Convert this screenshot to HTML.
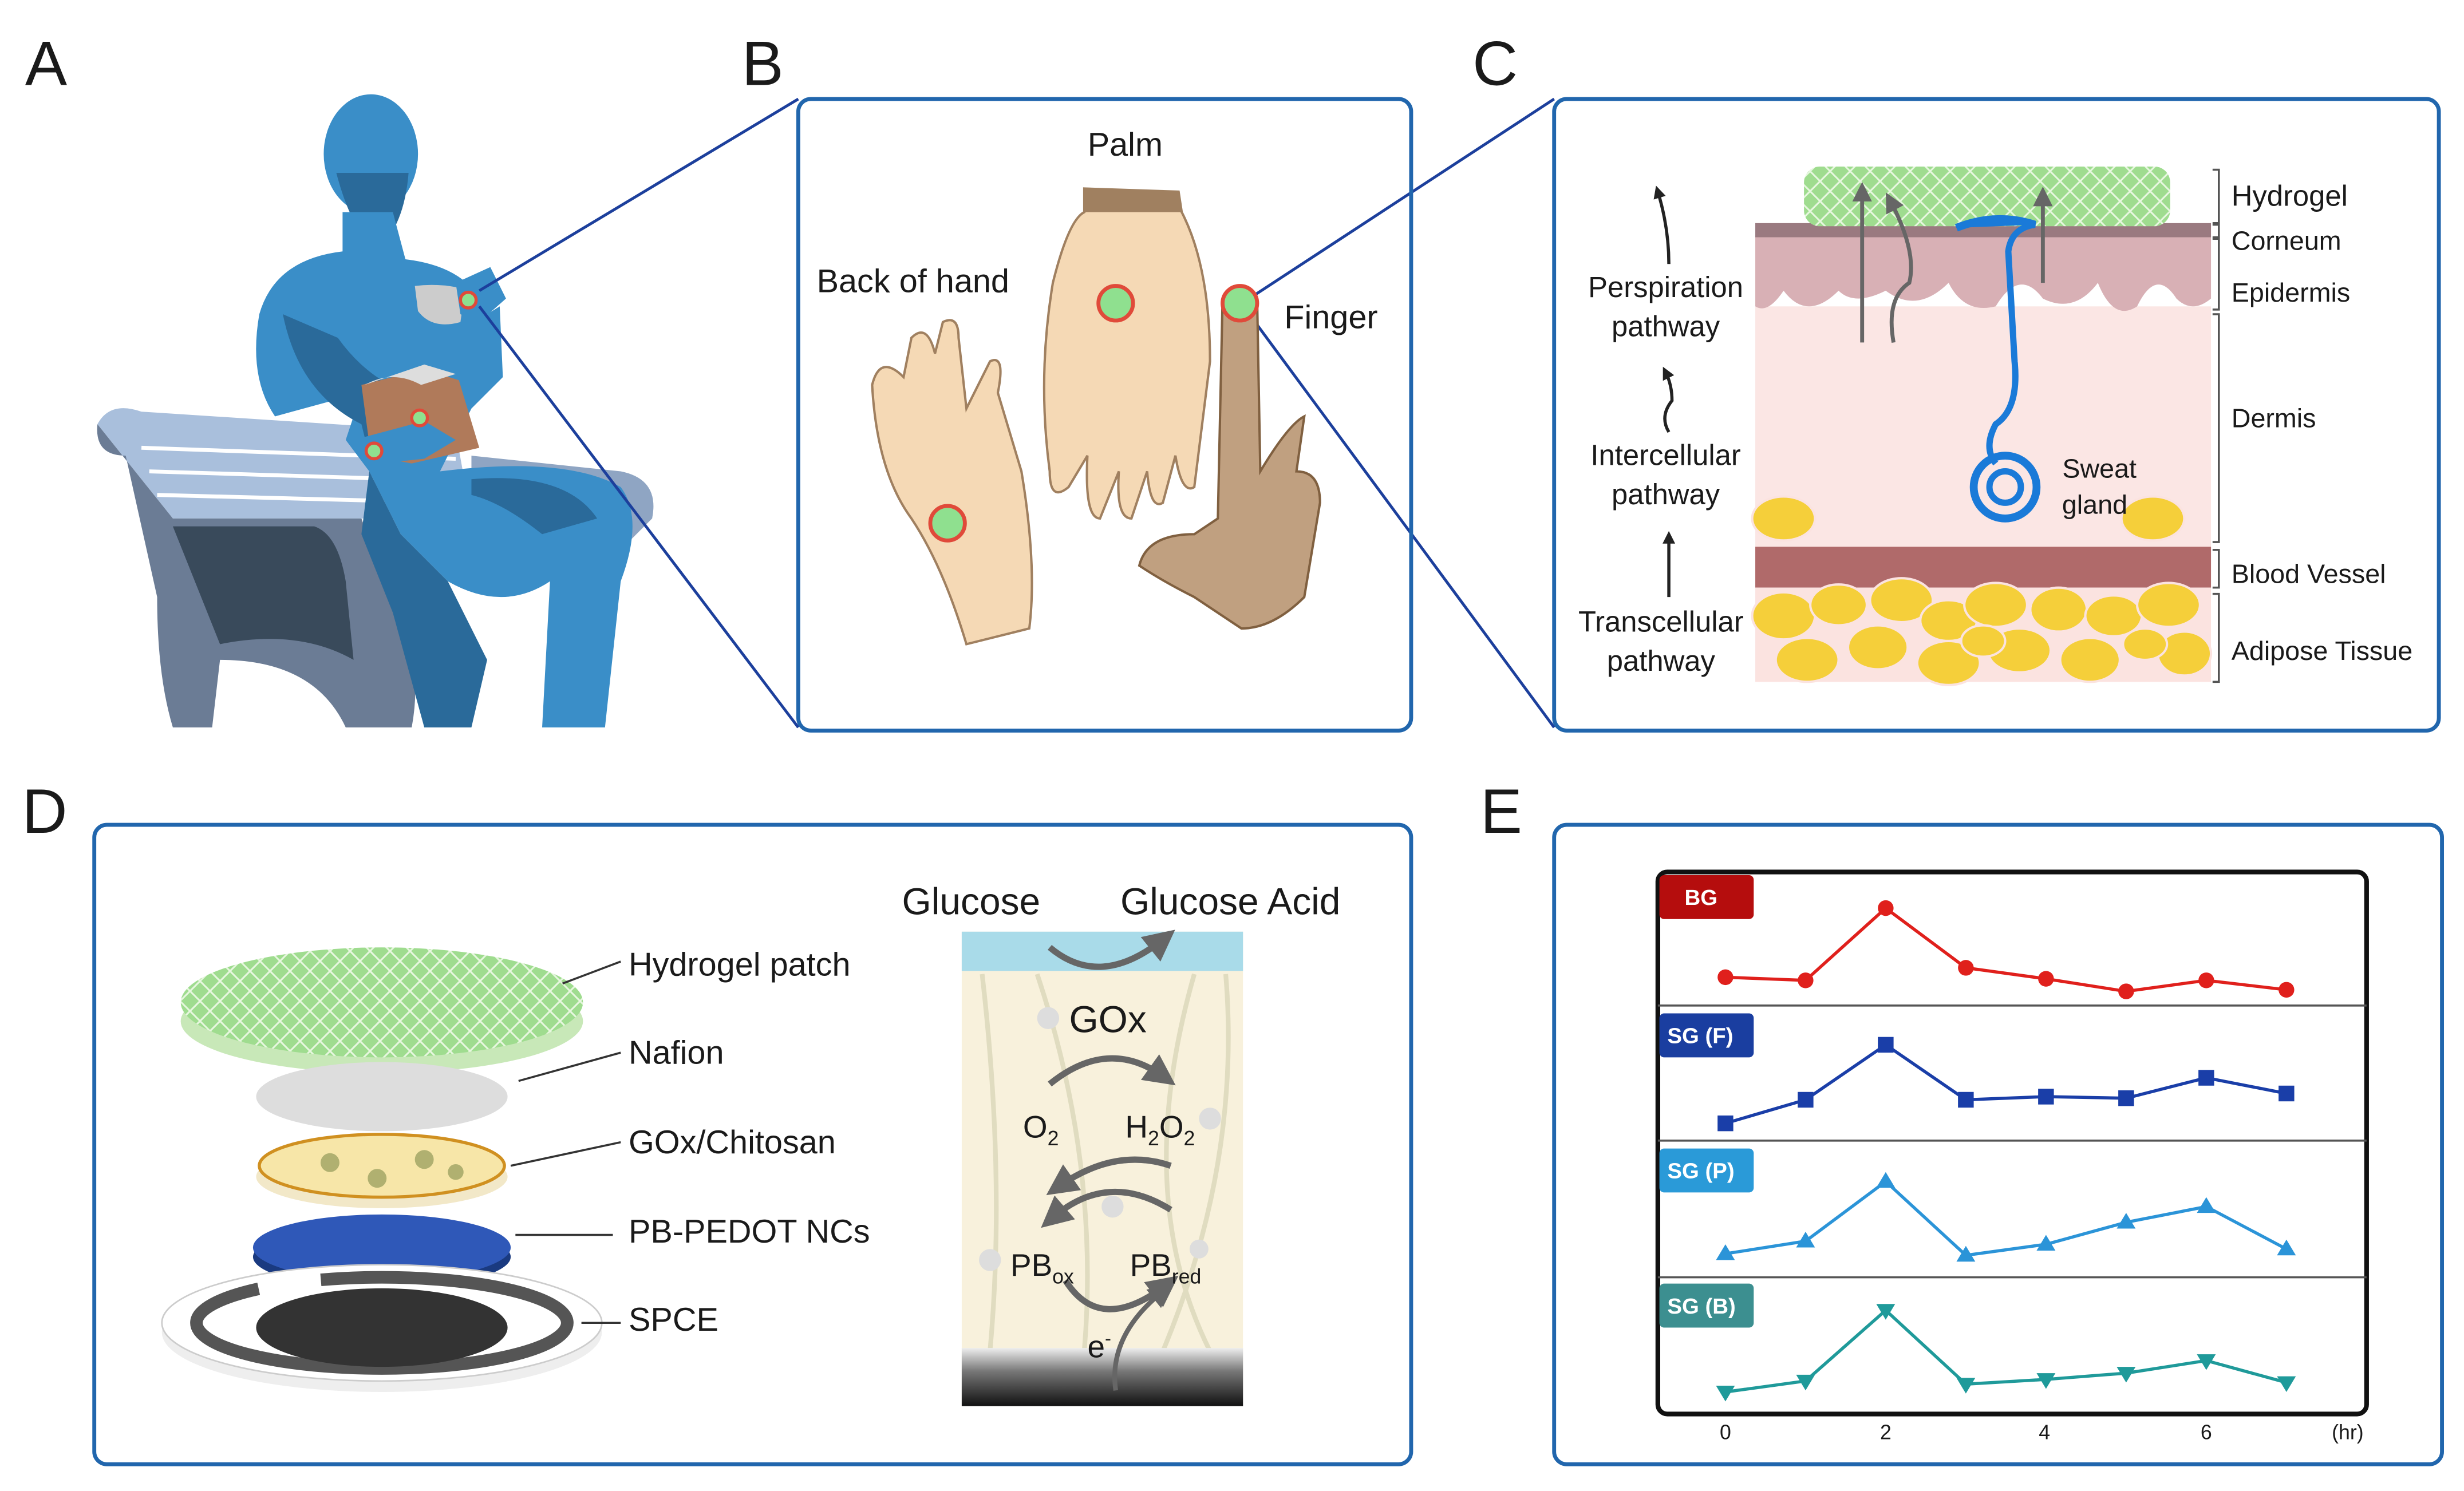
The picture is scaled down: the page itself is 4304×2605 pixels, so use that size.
<!DOCTYPE html>
<html><head><meta charset="utf-8"><style>
html,body{margin:0;padding:0;background:#fff}
svg{display:block}
text{font-family:"Liberation Sans",Arial,sans-serif;fill:#1a1a1a}
</style></head><body>
<svg width="4304" height="2605" viewBox="0 0 1568 949" xmlns="http://www.w3.org/2000/svg">
<defs>
<pattern id="hatch" width="9" height="9" patternUnits="userSpaceOnUse" patternTransform="rotate(45)">
<rect width="9" height="9" fill="#9fdc8f"/><path d="M0 0H9M0 0V9" stroke="#e8f7e0" stroke-width="2.2"/></pattern>
<linearGradient id="dark" x1="0" y1="0" x2="0" y2="1"><stop offset="0" stop-color="#eee"/><stop offset="0.4" stop-color="#777"/><stop offset="1" stop-color="#111"/></linearGradient>
<marker id="ah" viewBox="0 0 10 10" refX="5" refY="5" markerWidth="5" markerHeight="5" orient="auto"><path d="M0 0L10 5L0 10z" fill="#666"/></marker>
<marker id="ak" viewBox="0 0 10 10" refX="5" refY="5" markerWidth="4" markerHeight="4" orient="auto"><path d="M0 0L10 5L0 10z" fill="#222"/></marker>
</defs>

<text x="16" y="54" font-size="40">A</text>
<text x="472" y="54" font-size="40">B</text>
<text x="937" y="54" font-size="40">C</text>
<text x="14" y="530" font-size="40">D</text>
<text x="942" y="530" font-size="40">E</text>

<path d="M62 270 Q70 255 90 262 L290 275 L300 330 L110 330 Z" fill="#a9bfdc"/>
<g stroke="#fff" stroke-width="2.5"><line x1="90" y1="285" x2="290" y2="292"/><line x1="95" y1="300" x2="290" y2="306"/><line x1="100" y1="315" x2="290" y2="320"/><line x1="330" y1="300" x2="400" y2="310"/></g>
<path d="M62 270 Q60 290 80 290 L100 380 Q100 430 110 463 L135 463 L140 420 Q200 420 220 463 L262 463 Q270 420 250 385 L230 330 L110 330 Z" fill="#6b7c95"/>
<path d="M110 335 L140 410 Q190 400 225 420 L220 370 Q215 340 200 335 Z" fill="#394a5b"/>
<path d="M300 290 L395 300 Q420 305 415 330 L400 345 L300 320 Z" fill="#8fa5c3"/>
<ellipse cx="236" cy="98" rx="30" ry="38" fill="#3a8ec8"/>
<path d="M214 110 Q222 140 232 150 L248 150 Q258 135 260 110 Z" fill="#2a6a9a"/>
<path d="M218 135 L250 135 L258 165 Q300 170 310 200 L318 195 L320 240 L300 260 L280 300 Q360 290 395 310 Q410 330 395 370 L385 463 L345 463 L350 370 Q320 390 285 370 L255 340 L235 300 L220 280 L230 250 L175 265 Q158 240 165 200 Q175 165 218 160 Z" fill="#3a8ec8"/>
<path d="M180 200 Q190 250 230 270 L235 290 L285 275 L280 255 Q240 250 215 215 Z" fill="#2a6a9a"/>
<path d="M300 305 Q360 300 380 330 L345 340 Q320 320 300 315 Z" fill="#2a6a9a"/>
<path d="M235 300 L255 340 L285 370 L310 420 L300 463 L270 463 L250 390 L230 340 Z" fill="#2a6a9a"/>
<path d="M230 245 L270 235 L292 242 L305 285 L262 295 L236 290 Z" fill="#b07a5a"/>
<path d="M232 245 Q250 235 268 245 L290 238 L270 232 Z" fill="#ddd"/>
<path d="M225 280 L270 268 L290 280 L270 292 L232 296 Z" fill="#3a8ec8"/>
<path d="M264 182 Q280 180 296 184 L293 205 Q275 210 266 198 Z" fill="#ccc"/>
<path d="M290 180 L312 170 L322 190 L305 205 L293 200 Z" fill="#3a8ec8"/>
<g fill="#8fe08f" stroke="#e04a3a" stroke-width="2"><circle cx="298" cy="191" r="5"/><circle cx="267" cy="266" r="5"/><circle cx="238" cy="287" r="5"/></g>

<g stroke="#1c3f9c" stroke-width="1.8" fill="none">
<line x1="305" y1="185" x2="508" y2="63"/><line x1="305" y1="195" x2="508" y2="463"/>
<line x1="795" y1="190" x2="989" y2="63"/><line x1="795" y1="200" x2="989" y2="463"/>
</g>

<g fill="none" stroke="#2166ad" stroke-width="2.5">
<rect x="508" y="63" width="390" height="402" rx="8"/>
<rect x="989" y="63" width="563" height="402" rx="8"/>
<rect x="60" y="525" width="838" height="407" rx="8"/>
<rect x="989" y="525" width="565" height="407" rx="8"/>
</g>

<text x="716" y="99" font-size="21" text-anchor="middle">Palm</text>
<text x="581" y="186" font-size="21" text-anchor="middle">Back of hand</text>
<text x="847" y="209" font-size="21" text-anchor="middle">Finger</text>
<path d="M555 245 Q560 225 575 240 L580 215 Q590 205 595 225 L600 205 Q610 200 610 215 L615 260 L630 230 Q640 225 635 250 L650 300 Q660 360 655 400 L615 410 Q600 360 580 330 Q558 300 555 245 Z" fill="#f5d9b5" stroke="#a08060" stroke-width="1.5"/>
<path d="M690 120 L750 122 L752 135 Q770 170 770 230 L760 310 Q752 315 748 290 L740 320 Q732 325 730 300 L720 330 Q710 330 712 300 L700 330 Q690 330 692 290 L680 310 Q668 320 668 300 Q660 240 670 180 Q680 140 690 135 Z" fill="#f5d9b5" stroke="#a08060" stroke-width="1.5"/>
<path d="M690 120 L750 122 L752 135 L690 135 Z" fill="#a08060"/>
<path d="M778 190 Q790 175 800 190 L802 300 Q820 270 830 265 L825 300 Q840 300 840 320 L830 380 Q810 400 790 400 L760 380 Q740 370 725 360 Q730 340 760 340 L775 330 Z" fill="#c0a080" stroke="#806040" stroke-width="1.5"/>
<g fill="#8fe08f" stroke="#e04a3a" stroke-width="2.5"><circle cx="603" cy="333" r="11"/><circle cx="710" cy="193" r="11"/><circle cx="789" cy="193" r="11"/></g>

<rect x="1117" y="195" width="290" height="155" fill="#fbe6e4"/>
<path d="M1117 150 L1407 150 L1407 190 Q1395 200 1385 190 Q1372 170 1360 195 Q1345 205 1335 180 Q1320 200 1300 190 Q1285 170 1270 195 Q1250 200 1240 180 Q1220 200 1200 185 Q1180 195 1170 185 Q1150 205 1135 185 Q1125 200 1117 195 Z" fill="#d8b0b5"/>
<rect x="1117" y="142" width="290" height="9" fill="#9a7a80"/>
<rect x="1148" y="106" width="233" height="38" rx="10" fill="url(#hatch)"/>
<rect x="1117" y="348" width="290" height="26" fill="#b06a6a"/>
<rect x="1117" y="374" width="290" height="60" fill="#fbe3e0"/>
<g fill="#f5cf3a" stroke="#fbe3e0" stroke-width="1.5">
<ellipse cx="1135" cy="330" rx="20" ry="14"/><ellipse cx="1370" cy="330" rx="20" ry="14"/>
<ellipse cx="1135" cy="392" rx="20" ry="15"/><ellipse cx="1170" cy="385" rx="18" ry="13"/><ellipse cx="1210" cy="382" rx="20" ry="14"/><ellipse cx="1240" cy="395" rx="18" ry="13"/><ellipse cx="1270" cy="385" rx="20" ry="14"/><ellipse cx="1310" cy="388" rx="18" ry="14"/><ellipse cx="1345" cy="392" rx="18" ry="13"/><ellipse cx="1380" cy="385" rx="20" ry="14"/>
<ellipse cx="1150" cy="420" rx="20" ry="14"/><ellipse cx="1195" cy="412" rx="19" ry="14"/><ellipse cx="1240" cy="422" rx="20" ry="14"/><ellipse cx="1285" cy="414" rx="20" ry="14"/><ellipse cx="1330" cy="420" rx="19" ry="14"/><ellipse cx="1390" cy="416" rx="17" ry="14"/><ellipse cx="1262" cy="408" rx="14" ry="10"/><ellipse cx="1365" cy="410" rx="14" ry="10"/></g>
<path d="M1245 145 Q1270 135 1295 143 Q1280 145 1278 160 L1282 230 Q1285 260 1270 270 Q1262 285 1270 295" fill="none" stroke="#1a7ad8" stroke-width="4"/>
<path d="M1245 145 Q1270 135 1295 143" fill="#1a7ad8" stroke="#1a7ad8" stroke-width="5"/>
<circle cx="1276" cy="310" r="20" fill="none" stroke="#1a7ad8" stroke-width="5"/>
<circle cx="1276" cy="310" r="10" fill="none" stroke="#1a7ad8" stroke-width="4"/>
<g stroke="#666" stroke-width="2.5" fill="none" marker-end="url(#ah)">
<line x1="1185" y1="218" x2="1185" y2="122"/>
<path d="M1205 218 Q1200 190 1215 180 Q1220 160 1203 128"/>
<path d="M1300 180 L1300 125"/></g>
<g stroke="#222" stroke-width="2" fill="none" marker-end="url(#ak)">
<path d="M1062 168 Q1062 145 1055 122"/><path d="M1062 275 Q1056 265 1064 255 Q1064 245 1060 237"/><line x1="1062" y1="380" x2="1062" y2="342"/></g>
<g font-size="18.5" text-anchor="middle">
<text x="1060" y="189">Perspiration</text><text x="1060" y="214">pathway</text>
<text x="1060" y="296">Intercellular</text><text x="1060" y="321">pathway</text>
<text x="1057" y="402">Transcellular</text><text x="1057" y="427">pathway</text>
<text x="1336" y="304" font-size="17">Sweat</text><text x="1333" y="327" font-size="17">gland</text></g>
<g stroke="#555" stroke-width="1.3" fill="none">
<path d="M1408 108 h4 v34 h-4"/><path d="M1408 143 h4 v8 h-4"/><path d="M1408 152 h4 v45 h-4"/><path d="M1408 200 h4 v145 h-4"/><path d="M1408 350 h4 v24 h-4"/><path d="M1408 378 h4 v56 h-4"/></g>
<g font-size="18.5"><text x="1420" y="131">Hydrogel</text><text x="1420" y="159" font-size="17">Corneum</text><text x="1420" y="192" font-size="17">Epidermis</text><text x="1420" y="272" font-size="17">Dermis</text><text x="1420" y="371" font-size="17">Blood Vessel</text><text x="1420" y="420" font-size="17">Adipose Tissue</text></g>

<ellipse cx="243" cy="650" rx="128" ry="33" fill="#c8e8b8"/>
<ellipse cx="243" cy="638" rx="128" ry="35" fill="url(#hatch)"/>
<ellipse cx="243" cy="698" rx="80" ry="22" fill="#ddd"/>
<ellipse cx="243" cy="749" rx="80" ry="20" fill="#f2e8c8"/>
<ellipse cx="243" cy="742" rx="78" ry="20" fill="#f7e6a8" stroke="#d09020" stroke-width="2"/>
<g fill="#b0b070"><circle cx="210" cy="740" r="6"/><circle cx="240" cy="750" r="6"/><circle cx="270" cy="738" r="6"/><circle cx="290" cy="746" r="5"/></g>
<ellipse cx="243" cy="800" rx="82" ry="20" fill="#1a3a80"/>
<ellipse cx="243" cy="794" rx="82" ry="21" fill="#2f58b8"/>
<ellipse cx="243" cy="848" rx="140" ry="38" fill="#eee"/>
<ellipse cx="243" cy="842" rx="140" ry="37" fill="#fff" stroke="#ccc"/>
<ellipse cx="243" cy="842" rx="118" ry="29" fill="none" stroke="#555" stroke-width="8" stroke-dasharray="300 40"/>
<ellipse cx="243" cy="845" rx="80" ry="25" fill="#333"/>
<g stroke="#333" stroke-width="1.3"><line x1="358" y1="626" x2="395" y2="612"/><line x1="330" y1="688" x2="395" y2="670"/><line x1="325" y1="742" x2="395" y2="727"/><line x1="328" y1="786" x2="390" y2="786"/><line x1="370" y1="842" x2="395" y2="842"/></g>
<g font-size="21"><text x="400" y="621">Hydrogel patch</text><text x="400" y="677">Nafion</text><text x="400" y="734">GOx/Chitosan</text><text x="400" y="791">PB-PEDOT NCs</text><text x="400" y="847">SPCE</text></g>
<rect x="612" y="593" width="179" height="302" fill="#f8f1dc"/>
<g stroke="#e0dcc0" stroke-width="3" fill="none"><path d="M625 620 Q640 750 630 860"/><path d="M660 620 Q700 740 690 860"/><path d="M760 620 Q720 760 770 860"/><path d="M780 620 Q790 740 740 860"/></g>
<g fill="#ddd"><circle cx="667" cy="648" r="7"/><circle cx="770" cy="712" r="7"/><circle cx="630" cy="802" r="7"/><circle cx="708" cy="768" r="7"/><circle cx="763" cy="795" r="6"/></g>
<rect x="612" y="593" width="179" height="25" fill="#a9dbe9"/>
<rect x="612" y="858" width="179" height="37" fill="url(#dark)"/>
<g stroke="#666" stroke-width="4" fill="none" marker-end="url(#ah)">
<path d="M668 603 Q700 630 740 598"/><path d="M668 690 Q705 660 740 685"/><path d="M745 742 Q710 730 674 755"/><path d="M745 770 Q705 745 670 775"/><path d="M678 815 Q700 850 742 818"/><path d="M710 885 Q705 850 740 822" stroke-width="3"/></g>
<g font-size="24" text-anchor="middle"><text x="618" y="582">Glucose</text><text x="783" y="582">Glucose Acid</text><text x="705" y="657">GOx</text></g>
<g font-size="20"><text x="651" y="724">O<tspan font-size="13" dy="5">2</tspan></text><text x="716" y="724">H<tspan font-size="13" dy="5">2</tspan><tspan dy="-5">O</tspan><tspan font-size="13" dy="5">2</tspan></text>
<text x="643" y="812">PB<tspan font-size="13" dy="5">ox</tspan></text><text x="719" y="812">PB<tspan font-size="13" dy="5">red</tspan></text><text x="692" y="864">e<tspan font-size="12" dy="-8">-</tspan></text></g>

<rect x="1055" y="555" width="451" height="345" rx="6" fill="none" stroke="#111" stroke-width="3"/>
<g stroke="#555" stroke-width="1.3"><line x1="1055" y1="640" x2="1506" y2="640"/><line x1="1055" y1="726" x2="1506" y2="726"/><line x1="1055" y1="813" x2="1506" y2="813"/></g>
<g font-size="13" text-anchor="middle"><text x="1098" y="916">0</text><text x="1200" y="916">2</text><text x="1301" y="916">4</text><text x="1404" y="916">6</text><text x="1494" y="916">(hr)</text></g>
<g font-size="14" font-weight="bold" fill="#fff">
<rect x="1056" y="557" width="60" height="28" rx="3" fill="#b50d0d"/><text x="1072" y="576" style="fill:#fff">BG</text>
<rect x="1056" y="645" width="60" height="28" rx="3" fill="#1a3ea0"/><text x="1061" y="664" style="fill:#fff">SG (F)</text>
<rect x="1056" y="731" width="60" height="28" rx="3" fill="#2a9ad8"/><text x="1061" y="750" style="fill:#fff">SG (P)</text>
<rect x="1056" y="817" width="60" height="28" rx="3" fill="#3c8f90"/><text x="1061" y="836" style="fill:#fff">SG (B)</text></g>
<polyline points="1098,622 1149,624 1200,578 1251,616 1302,623 1353,631 1404,624 1455,630" fill="none" stroke="#e0201c" stroke-width="2"/>
<g fill="#e0201c"><circle cx="1098" cy="622" r="5"/><circle cx="1149" cy="624" r="5"/><circle cx="1200" cy="578" r="5"/><circle cx="1251" cy="616" r="5"/><circle cx="1302" cy="623" r="5"/><circle cx="1353" cy="631" r="5"/><circle cx="1404" cy="624" r="5"/><circle cx="1455" cy="630" r="5"/></g>
<polyline points="1098,715 1149,700 1200,665 1251,700 1302,698 1353,699 1404,686 1455,696" fill="none" stroke="#1a3ea8" stroke-width="2"/>
<g fill="#1a3ea8"><rect x="1093" y="710" width="10" height="10"/><rect x="1144" y="695" width="10" height="10"/><rect x="1195" y="660" width="10" height="10"/><rect x="1246" y="695" width="10" height="10"/><rect x="1297" y="693" width="10" height="10"/><rect x="1348" y="694" width="10" height="10"/><rect x="1399" y="681" width="10" height="10"/><rect x="1450" y="691" width="10" height="10"/></g>
<polyline points="1098,798 1149,790 1200,752 1251,799 1302,792 1353,778 1404,768 1455,795" fill="none" stroke="#2b94d8" stroke-width="2"/>
<g fill="#2b94d8"><path d="M1092 802h12l-6-10z"/><path d="M1143 794h12l-6-10z"/><path d="M1194 756h12l-6-10z"/><path d="M1245 803h12l-6-10z"/><path d="M1296 796h12l-6-10z"/><path d="M1347 782h12l-6-10z"/><path d="M1398 772h12l-6-10z"/><path d="M1449 799h12l-6-10z"/></g>
<polyline points="1098,886 1149,879 1200,834 1251,881 1302,878 1353,874 1404,866 1455,880" fill="none" stroke="#1f9a9a" stroke-width="2"/>
<g fill="#1f9a9a"><path d="M1092 882h12l-6 10z"/><path d="M1143 875h12l-6 10z"/><path d="M1194 830h12l-6 10z"/><path d="M1245 877h12l-6 10z"/><path d="M1296 874h12l-6 10z"/><path d="M1347 870h12l-6 10z"/><path d="M1398 862h12l-6 10z"/><path d="M1449 876h12l-6 10z"/></g>
</svg>
</body></html>
